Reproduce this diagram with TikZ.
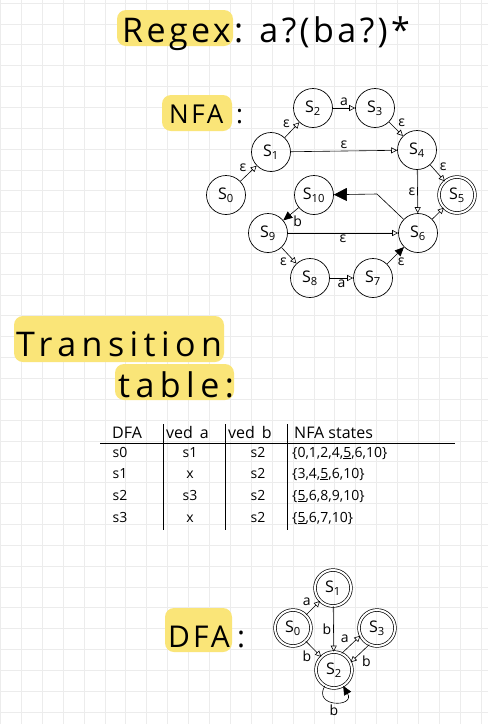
\documentclass[tikz,border=0pt]{standalone}
\usepackage{fontspec}
\setmainfont{Open Sans}
\newfontfamily\hand[LetterSpace=10]{Open Sans}
\newfontfamily\handw[LetterSpace=16]{Open Sans}
\usetikzlibrary{arrows.meta}
\definecolor{hl}{RGB}{250,229,120}
\definecolor{gridc}{RGB}{236,236,236}
\begin{document}
\begin{tikzpicture}[x=1pt,y=-1pt,
 st/.style={draw, circle, minimum size=39pt, inner sep=0pt, line width=0.7pt, font=\fontsize{16}{16}\selectfont},
 acc/.style={st, double, double distance=2pt, minimum size=36pt},
 ed/.style={line width=0.6pt, -{Triangle[open,length=6pt,width=6pt]}},
 edf/.style={line width=0.6pt, -{Triangle[length=9pt,width=8pt]}},
 lab/.style={font=\fontsize{14}{14}\selectfont, inner sep=2pt},
 hlbox/.style={fill=hl, rounded corners=9pt, draw=none},
 head/.style={font=\hand\fontsize{34}{34}\selectfont, inner sep=0pt, anchor=base west},
 tab/.style={font=\fontsize{14}{14}\selectfont, inner sep=0pt, anchor=base},
 tabl/.style={font=\fontsize{14}{14}\selectfont, inner sep=0pt, anchor=base west},
 tabh/.style={font=\fontsize{16}{16}\selectfont, inner sep=0pt, anchor=base west}
]
\useasboundingbox (0,0) rectangle (488,724);
\fill[white] (0,0) rectangle (488,724);
% grid
\foreach \i in {0,...,23} {\draw[gridc, line width=1pt] (0.5+20.9*\i,0) -- (0.5+20.9*\i,724);}
\foreach \j in {0,...,34} {\draw[gridc, line width=1pt] (0,3.2+20.85*\j) -- (488,3.2+20.85*\j);}

% headings
\fill[hlbox] (117,10) rectangle (233,46);
\node[head, font=\hand\fontsize{34}{34}\selectfont] (title) at (122,42) {Regex: a?(ba?)*};

\fill[hlbox] (162,95) rectangle (232,131);
\node[head, font=\hand\fontsize{26}{26}\selectfont] (nfah) at (169,123) {NFA};
\node[head, font=\hand\fontsize{26}{26}\selectfont] (nfac) at (236,123) {:};

\fill[hlbox] (14,316) rectangle (224,362);
\fill[hlbox] (115,364) rectangle (234,400);
\node[head, font=\handw\fontsize{34}{34}\selectfont] (trans) at (16,356) {Transition};
\node[head, font=\handw\fontsize{34}{34}\selectfont] (tabh) at (118,397) {table:};

\fill[hlbox] (165,608) rectangle (232,652);
\node[head, font=\hand\fontsize{30}{30}\selectfont] (dfah) at (168,647) {DFA};
\node[head, font=\hand\fontsize{30}{30}\selectfont] (dfac) at (237,647) {:};

% NFA
\node[st] (n0) at (226,195) {S\textsubscript{0}};
\node[st] (n1) at (271,152) {S\textsubscript{1}};
\node[st] (n2) at (313,108) {S\textsubscript{2}};
\node[st] (n3) at (375,108) {S\textsubscript{3}};
\node[st] (n4) at (417,150) {S\textsubscript{4}};
\node[acc] (n5) at (457,195) {S\textsubscript{5}};
\node[st] (n10) at (314,195) {S\textsubscript{10}};
\node[st] (n9) at (268,233) {S\textsubscript{9}};
\node[st] (n6) at (418,233) {S\textsubscript{6}};
\node[st] (n8) at (310,278) {S\textsubscript{8}};
\node[st] (n7) at (373,278) {S\textsubscript{7}};
\coordinate (bend) at (377,194);

\draw[ed] (n0) -- (n1) node[lab, midway, above left] {ε};
\draw[ed] (n1) -- (n2) node[lab, midway, above left] {ε};
\draw[ed] (n2) -- (n3) node[lab, midway, above] {a};
\draw[ed] (n3) -- (n4) node[lab, midway, above right] {ε};
\draw[ed] (n1) -- (n4) node[lab, midway, above] {ε};
\draw[ed] (n4) -- (n5) node[lab, midway, above right] {ε};
\draw[ed] (n4) -- (n6) node[lab, midway, left] {ε};
\draw[ed] (n6) -- (n5);
\draw[line width=0.6pt, -{Triangle[length=13pt,width=13pt]}] (n6) -- (bend) -- (n10);
\draw[edf] (n10) -- (n9) node[lab, midway, below right] {b};
\draw[ed] (n9) -- (n6) node[lab, midway, below] {ε};
\draw[ed] (n9) -- (n8) node[lab, midway, below left] {ε};
\draw[ed] (n8) -- (n7) node[lab, midway, below] {a};
\draw[edf] (n7) -- (n6) node[lab, midway, below right] {ε};

% table
\draw[line width=0.7pt] (100,443) -- (455,443);
\draw[line width=0.7pt] (163,424) -- (163,530);
\draw[line width=0.7pt] (225,424) -- (225,530);
\draw[line width=0.7pt] (287,424) -- (287,530);
\node[tabh] (h1) at (112,438) {DFA};
\node[tabh] (h2) at (166,438) {ved\, a};
\node[tabh] (h3) at (228,438) {ved\, b};
\node[tabh] (h4) at (294,438) {NFA states};

\node[tab] (r11) at (120,457) {s0};
\node[tab] (r12) at (190,457) {s1};
\node[tab] (r13) at (258,457) {s2};
\node[tabl] (r14) at (292,457) {\{0,1,2,4,\underline{5},6,10\}};
\node[tab] (r21) at (120,478) {s1};
\node[tab] (r22) at (190,478) {x};
\node[tab] (r23) at (258,478) {s2};
\node[tabl] (r24) at (292,478) {\{3,4,\underline{5},6,10\}};
\node[tab] (r31) at (120,500) {s2};
\node[tab] (r32) at (190,500) {s3};
\node[tab] (r33) at (258,500) {s2};
\node[tabl] (r34) at (292,500) {\{\underline{5},6,8,9,10\}};
\node[tab] (r41) at (120,522) {s3};
\node[tab] (r42) at (190,522) {x};
\node[tab] (r43) at (258,522) {s2};
\node[tabl] (r44) at (292,522) {\{\underline{5},6,7,10\}};

% DFA
\node[acc] (d1) at (333,588) {S\textsubscript{1}};
\node[acc] (d0) at (293,628) {S\textsubscript{0}};
\node[acc] (d3) at (377,628) {S\textsubscript{3}};
\node[acc] (d2) at (334,670) {S\textsubscript{2}};
\draw[ed] (d0) -- (d1) node[lab, midway, above left] {a};
\draw[ed] (d1) -- (d2) node[lab, midway, left] {b};
\draw[ed] (d0) -- (d2) node[lab, midway, below left] {b};
\draw[ed] (d2.65) -- (d3.205) node[lab, midway, above left] {a};
\draw[ed] (d3.245) -- (d2.25) node[lab, midway, below right] {b};
\path (d2) edge[edf, out=-120, in=-60, looseness=3.5] node[lab, below] {b} (d2);
\end{tikzpicture}
\end{document}
